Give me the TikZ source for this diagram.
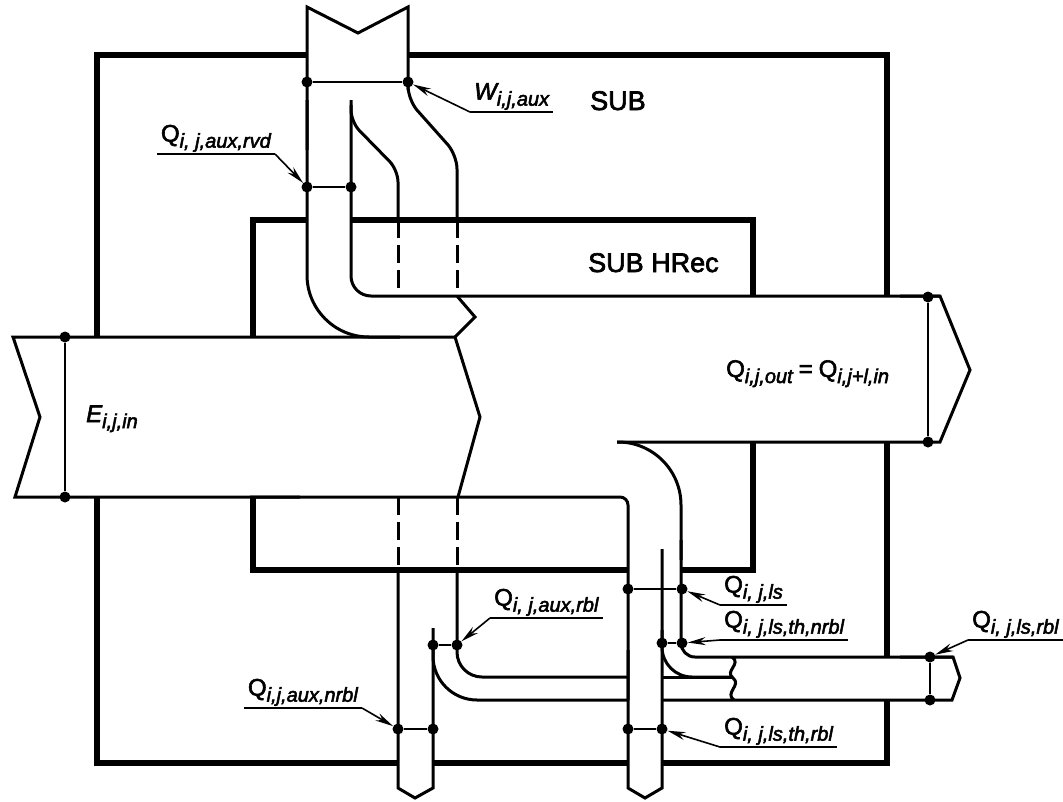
\documentclass[tikz,border=0pt]{standalone}
\usepackage{fontspec}
\setmainfont{Liberation Sans}
\newfontfamily\tagfont{Liberation Sans}[FakeBold=2.5]
\usetikzlibrary{arrows.meta}

\newcommand{\flowlbl}[2]{#1\raisebox{-0.25em}{\fontsize{20pt}{20pt}\selectfont\itshape #2}}

\tikzset{
  wall/.style={line width=6pt},
  flow/.style={line width=3pt, line join=miter},
  hidden/.style={flow, dash pattern=on 18pt off 7pt},
  link/.style={line width=1.8pt},
  dot/.style={circle, fill, inner sep=0pt, minimum size=11pt},
  ptr/.style={line width=1.6pt, -{Stealth[length=18pt, width=8pt]}},
  tag/.style={inner xsep=4pt, inner ysep=2pt, font=\tagfont\fontsize{24pt}{24pt}\selectfont},
  title/.style={inner sep=0pt, font=\tagfont\fontsize{27pt}{27pt}\selectfont},
}

\begin{document}
\begin{tikzpicture}[x=1pt, y=-1pt]
  \useasboundingbox (0,0) rectangle (1063,801);

  % SUB
  \draw[wall] (307,55) -- (97,55) -- (97,337);
  \draw[wall] (97,497) -- (97,763) -- (398,763);
  \draw[wall] (433,763) -- (628,763);
  \draw[wall] (662,763) -- (887,763) -- (887,700);
  \draw[wall] (887,657) -- (887,442);
  \draw[wall] (887,297) -- (887,55) -- (408,55);
  % SUB HRec
  \draw[wall] (253,337) -- (253,220) -- (307,220);
  \draw[wall] (351,220) -- (753,220) -- (753,297);
  \draw[wall] (753,442) -- (753,570) -- (682,570);
  \draw[wall] (628,570) -- (253,570) -- (253,497);

  % E in
  \draw[flow] (455,337) -- (13,337) -- (40,417) -- (15,497) -- (300,497);
  \draw[flow] (455,337) -- (480,417) -- (458,497);
  \draw[flow, rounded corners=8pt] (250,497) -- (628,497) -- (628,700);
  \draw[flow] (628,650) -- (628,788) -- (645,798) -- (662,788) -- (662,549);

  % W aux
  \draw[flow] (307,150) -- (307,7) -- (358,33) -- (408,7) -- (408,90);
  \draw[flow, rounded corners=62pt] (307,100) -- (307,337) -- (400,337);
  \draw[flow, rounded corners=20pt] (351,100) -- (351,296) -- (940,296);
  \draw[flow] (457,296) -- (475,317) -- (455,337);
  \draw[flow, rounded corners=14pt] (408,80) -- (408,100) -- (457,155) -- (457,220);
  \draw[flow, rounded corners=12pt] (351,105) -- (351,122) -- (398,170) -- (398,220);
  \draw[hidden] (398,220) -- (398,296);
  \draw[hidden] (457,220) -- (457,296);

  % Q out
  \draw[flow] (900,296) -- (940,296) -- (970,370) -- (940,442) -- (617,442);

  % aux losses
  \draw[hidden] (398,497) -- (398,570);
  \draw[hidden] (457,497) -- (457,570);
  \draw[flow] (398,570) -- (398,788) -- (415,798) -- (433,788) -- (433,628);
  \draw[flow, rounded corners=44pt] (433,640) -- (433,700) -- (628,700);
  \draw[flow, rounded corners=25pt] (457,570) -- (457,677) -- (628,677);

  % ls losses
  \draw[flow, rounded corners=63pt] (617,442) -- (681,442) -- (681,560);
  \draw[flow, rounded corners=14pt] (681,540) -- (681,657) -- (953,657);
  \draw[flow] (900,657) -- (953,657) -- (960,678) -- (952,700) -- (662,700);
  \draw[flow, rounded corners=30pt] (662,630) -- (662,677) -- (733,677);
  \draw[flow] (662,677) -- (733,677);
  \draw[flow] (732,657) .. controls (742,664) and (724,671) .. (733,678)
    .. controls (742,685) and (724,693) .. (734,700);

  % measuring points
  \node[dot] (wl) at (307,82) {};
  \node[dot] (wr) at (408,82) {};
  \node[dot] (rvl) at (307,187) {};
  \node[dot] (rvr) at (351,187) {};
  \node[dot] (et) at (65,337) {};
  \node[dot] (eb) at (65,497) {};
  \node[dot] (ot) at (928,297) {};
  \node[dot] (ob) at (928,442) {};
  \node[dot] (lsl) at (628,589) {};
  \node[dot] (lsr) at (682,589) {};
  \node[dot] (nrl) at (662,643) {};
  \node[dot] (nrr) at (682,643) {};
  \node[dot] (arl) at (433,645) {};
  \node[dot] (arr) at (457,645) {};
  \node[dot] (anl) at (398,729) {};
  \node[dot] (anr) at (433,729) {};
  \node[dot] (trl) at (628,729) {};
  \node[dot] (trr) at (662,729) {};
  \node[dot] (rbt) at (930,657) {};
  \node[dot] (rbb) at (930,700) {};

  \draw[link] (wl) -- (wr);
  \draw[link] (rvl) -- (rvr);
  \draw[link] (et) -- (eb);
  \draw[link] (ot) -- (ob);
  \draw[link] (lsl) -- (lsr);
  \draw[link] (nrl) -- (nrr);
  \draw[link] (arl) -- (arr);
  \draw[link] (anl) -- (anr);
  \draw[link] (trl) -- (trr);
  \draw[link] (rbt) -- (rbb);

  % labels
  \node[title, anchor=base west] (sub) at (590,110) {SUB};
  \node[title, anchor=base west] (hrec) at (588,272) {SUB HRec};
  \node[tag, anchor=base west] (etag) at (82,422) {\flowlbl{\itshape E}{i,j,in}};
  \node[tag, anchor=base west] (otag) at (722,377)
    {\flowlbl{Q}{i,j,out}\hspace{6pt}=\hspace{6pt}\flowlbl{Q}{i,j+l,in}};

  \node[tag, anchor=south west] (wtag) at (470,112) {\flowlbl{\itshape W}{i,j,aux}};
  \draw[link] (wtag.south west) -- (wtag.south east);
  \draw[ptr] (wtag.south west) -- (wr);

  \node[tag, anchor=south east] (rvtag) at (275,154) {\flowlbl{Q}{i, j,aux,rvd}};
  \draw[link] (rvtag.south west) -- (rvtag.south east);
  \draw[ptr] (rvtag.south east) -- (rvl);

  \node[tag, anchor=south west] (artag) at (490,618) {\flowlbl{Q}{i, j,aux,rbl}};
  \draw[link] (artag.south west) -- (artag.south east);
  \draw[ptr] (artag.south west) -- (arr);

  \node[tag, anchor=south east] (antag) at (362,708) {\flowlbl{Q}{i,j,aux,nrbl}};
  \draw[link] (antag.south west) -- (antag.south east);
  \draw[ptr] (antag.south east) -- (anl);

  \node[tag, anchor=south west] (lstag) at (720,605) {\flowlbl{Q}{i, j,ls}};
  \draw[link] (lstag.south west) -- (lstag.south east);
  \draw[ptr] (lstag.south west) -- (lsr);

  \node[tag, anchor=south west] (nrtag) at (720,640) {\flowlbl{Q}{i, j,ls,th,nrbl}};
  \draw[link] (nrtag.south west) -- (nrtag.south east);
  \draw[ptr] (nrtag.south west) -- (nrr);

  \node[tag, anchor=south west] (trtag) at (720,747) {\flowlbl{Q}{i, j,ls,th,rbl}};
  \draw[link] (trtag.south west) -- (trtag.south east);
  \draw[ptr] (trtag.south west) -- (trr);

  \node[tag, anchor=south west] (rbtag) at (968,640) {\flowlbl{Q}{i, j,ls,rbl}};
  \draw[link] (rbtag.south west) -- (rbtag.south east);
  \draw[ptr] (rbtag.south west) -- (rbt);
\end{tikzpicture}
\end{document}
